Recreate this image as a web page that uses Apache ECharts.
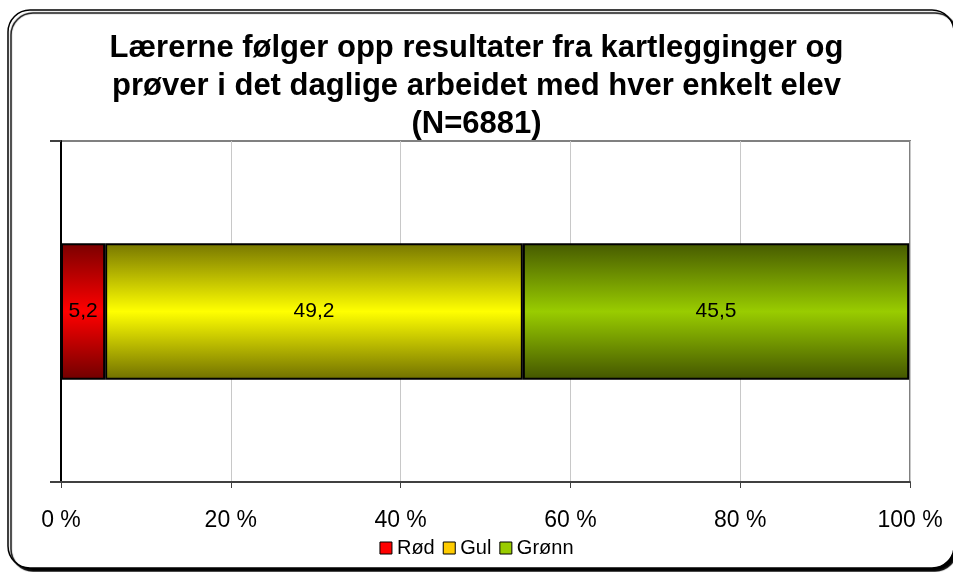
<!DOCTYPE html>
<html>
<head>
<meta charset="utf-8">
<script src="https://cdn.jsdelivr.net/npm/echarts@6/dist/echarts.min.js"></script>
<style>html,body{margin:0;padding:0;background:#fff}#c{width:953px;height:572px}</style>
</head>
<body>
<div id="c"></div>
<script>
const titleText = 'Lærerne følger opp resultater fra kartlegginger og\nprøver i det daglige arbeidet med hver enkelt elev\n(N=6881)';
const categories = [''];
const seriesNames = ['Rød', 'Gul', 'Grønn'];
const redValues = [5.2];
const yellowValues = [49.2];
const greenValues = [45.5];
const xTicks = [0, 20, 40, 60, 80, 100];

function grad(dark, bright, dark2) {
  return new echarts.graphic.LinearGradient(0, 0, 0, 1, [
    {offset: 0, color: dark},
    {offset: 0.5, color: bright},
    {offset: 1, color: dark2}
  ]);
}

const chart = echarts.init(document.getElementById('c'));
const font = '"Liberation Sans", Arial, sans-serif';
function mk(name, data, color) {
  return {
    name: name, type: 'bar', stack: 'a', data: data, barWidth: '40%',
    itemStyle: {color: color, borderColor: '#000', borderWidth: 2},
    label: {show: true, position: 'inside', color: '#000', fontSize: 21, fontFamily: font,
      formatter: p => String(p.value).replace('.', ',')},
    emphasis: {disabled: true}
  };
}
chart.setOption({
  animation: false,
  textStyle: {fontFamily: font},
  graphic: [{
    type: 'rect', z: -10, silent: true,
    shape: {x: 8, y: 10, width: 946, height: 558, r: 22},
    style: {fill: '#fff', stroke: '#000', lineWidth: 1.5,
      shadowColor: 'rgba(0,0,0,1)', shadowOffsetX: 3, shadowOffsetY: 3, shadowBlur: 1}
  }],
  title: {
    text: titleText, left: 'center', top: 24,
    textStyle: {fontSize: 31, fontWeight: 'bold', color: '#000', fontFamily: font, lineHeight: 38}
  },
  legend: {
    bottom: 9, left: 'center', icon: 'rect', itemWidth: 12, itemHeight: 12, itemGap: 8,
    textStyle: {fontSize: 20, color: '#000', fontFamily: font},
    data: [
      {name: 'Rød', itemStyle: {color: '#ff0000', borderColor: '#000', borderWidth: 1}},
      {name: 'Gul', itemStyle: {color: '#ffcc00', borderColor: '#000', borderWidth: 1}},
      {name: 'Grønn', itemStyle: {color: '#99cc00', borderColor: '#000', borderWidth: 1}}
    ]
  },
  grid: {left: 61, right: 43, top: 141, bottom: 90, show: true, borderColor: '#808080', borderWidth: 2, containLabel: false},
  xAxis: {
    type: 'value', min: 0, max: 100, interval: 20,
    axisLine: {show: true, lineStyle: {color: '#404040', width: 2}},
    axisTick: {show: true, length: 6, lineStyle: {color: '#404040'}},
    splitLine: {show: true, lineStyle: {color: '#c8c8c8', width: 1}},
    axisLabel: {fontSize: 23, color: '#000', margin: 27, formatter: v => v + ' %'}
  },
  yAxis: {
    type: 'category', data: categories,
    axisLine: {show: true, lineStyle: {color: '#000', width: 2}},
    axisTick: {show: true, length: 11, lineStyle: {color: '#404040', width: 2}},
    axisLabel: {show: false}
  },
  series: [
    mk(seriesNames[0], redValues, grad('#7a0000', '#ff0000', '#700000')),
    mk(seriesNames[1], yellowValues, grad('#777700', '#ffff00', '#707000')),
    mk(seriesNames[2], greenValues, grad('#465a00', '#99cc00', '#435500'))
  ]
});
</script>
</body>
</html>
